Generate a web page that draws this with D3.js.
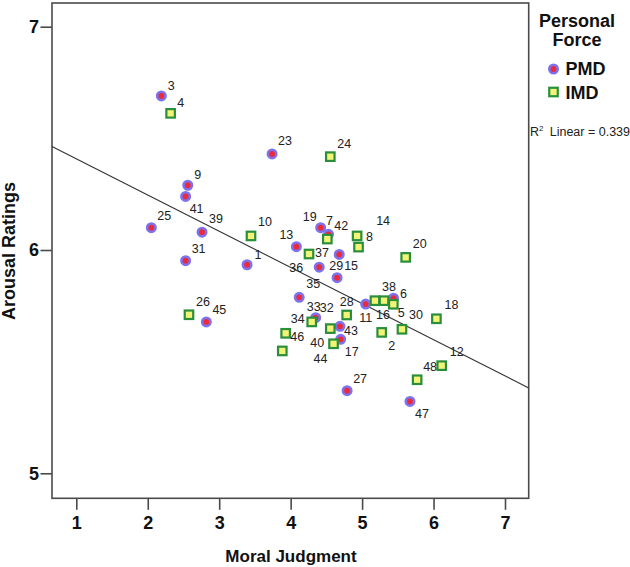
<!DOCTYPE html>
<html>
<head>
<meta charset="utf-8">
<script src="https://cdn.jsdelivr.net/npm/d3@7"></script>
<style>
  html, body { margin: 0; padding: 0; background: #fff; }
  svg { display: block; }
  text { font-family: Arial, "Liberation Sans", sans-serif; }
</style>
</head>
<body>
<div id="chart"></div>
<script>
// ---------------- DATA ----------------
const xTicks = [1, 2, 3, 4, 5, 6, 7];
const yTicks = [5, 6, 7];

// PMD (personal moral dilemmas) - circles
const pmdIds = [3, 23, 9, 41, 25, 39, 19, 7, 13, 29, 31, 1, 36, 15, 35, 45, 33, 43, 17, 11, 6, 27, 47];
const pmdX   = [2.19, 3.74, 2.56, 2.53, 2.05, 2.76, 4.42, 4.53, 4.08, 4.68, 2.53, 3.39, 4.40, 4.65, 4.12, 2.82, 4.35, 4.69, 4.70, 5.05, 5.44, 4.79, 5.67];
const pmdY   = [6.69, 6.43, 6.29, 6.24, 6.10, 6.08, 6.10, 6.07, 6.015, 5.98, 5.952, 5.934, 5.923, 5.876, 5.788, 5.678, 5.697, 5.658, 5.600, 5.758, 5.784, 5.370, 5.322];

// IMD (impersonal moral dilemmas) - squares
const imdIds = [4, 24, 10, 42, 14, 8, 37, 20, 26, 34, 46, 32, 28, 40, 44, 16, 38, 5, 30, 2, 18, 48, 12];
const imdX   = [2.32, 4.555, 3.445, 4.513, 4.93, 4.95, 4.257, 5.61, 2.577, 3.93, 3.883, 4.295, 4.784, 4.555, 4.60, 5.18, 5.307, 5.437, 5.558, 5.274, 6.04, 5.77, 6.114];
const imdY   = [6.612, 6.418, 6.063, 6.049, 6.063, 6.013, 5.982, 5.967, 5.710, 5.627, 5.548, 5.678, 5.709, 5.648, 5.580, 5.773, 5.773, 5.757, 5.645, 5.631, 5.692, 5.419, 5.482];

// Linear fit (total)
const fitIntercept = 6.570;
const fitSlope = -0.162;
const r2Text = "0.339";

const legendTitle = ["Personal", "Force"];
const legendLabels = ["PMD", "IMD"];
const xTitle = "Moral Judgment";
const yTitle = "Arousal Ratings";

// ---------------- LAYOUT ----------------
// label centre offsets (px) relative to each marker
const labelOffsets = {
  3:[10,-10], 4:[10,-10], 23:[13,-13], 24:[14,-13], 9:[10,-10], 41:[11,13],
  25:[13,-12], 39:[14,-13], 10:[14,-14], 31:[13,-12], 1:[11,-10], 26:[14,-13],
  45:[13,-12], 13:[-10,-12], 19:[-11,-11], 7:[1,-13], 42:[14,-13], 14:[26,-15],
  8:[11,-10], 37:[13,-1], 29:[-3,12], 15:[14,-12], 36:[-23,1], 35:[14,-13],
  20:[14,-13], 33:[-2,-11], 32:[15,-14], 28:[0,-13], 11:[0,14], 34:[12,-14],
  46:[15,-14], 43:[11,5], 40:[-13,14], 17:[11,13], 44:[-13,15], 38:[5,-14],
  16:[8,14], 6:[10,-4], 5:[8,9], 30:[14,-14], 18:[15,-14], 2:[10,14],
  48:[13,-13], 12:[15,-14], 27:[13,-12], 47:[12,13]
};

const W = 630, H = 567;
const frame = { left: 52, right: 528.7, top: 3, bottom: 498.3 };

const svg = d3.select("#chart").append("svg")
  .attr("width", W).attr("height", H);

const x = d3.scaleLinear().domain([1, 7]).range([76.3, 505]);
const y = d3.scaleLinear().domain([5, 7]).range([473.3, 26.7]);

// frame
svg.append("rect")
  .attr("x", frame.left).attr("y", frame.top)
  .attr("width", frame.right - frame.left).attr("height", frame.bottom - frame.top)
  .attr("fill", "none").attr("stroke", "#4a4a4a").attr("stroke-width", 1.6);

// x axis
const xAxis = svg.append("g")
  .attr("transform", `translate(0,${frame.bottom})`)
  .call(d3.axisBottom(x).tickValues(xTicks).tickSize(11.5).tickPadding(6).tickFormat(d3.format("d")));
xAxis.select(".domain").remove();
xAxis.selectAll(".tick line").attr("stroke", "#4a4a4a").attr("stroke-width", 1.6);
xAxis.selectAll(".tick text")
  .attr("font-size", 18).attr("font-weight", "bold").attr("fill", "#111")
  .attr("font-family", "Arial, 'Liberation Sans', sans-serif");

// y axis
const yAxis = svg.append("g")
  .attr("transform", `translate(${frame.left},0)`)
  .call(d3.axisLeft(y).tickValues(yTicks).tickSize(11.5).tickPadding(1.5).tickFormat(d3.format("d")));
yAxis.select(".domain").remove();
yAxis.selectAll(".tick line").attr("stroke", "#4a4a4a").attr("stroke-width", 1.6);
yAxis.selectAll(".tick text")
  .attr("font-size", 18).attr("font-weight", "bold").attr("fill", "#111")
  .attr("font-family", "Arial, 'Liberation Sans', sans-serif");

// axis titles
svg.append("text")
  .attr("x", 291).attr("y", 562)
  .attr("text-anchor", "middle")
  .attr("font-size", 17).attr("font-weight", "bold").attr("fill", "#111")
  .text(xTitle);

svg.append("text")
  .attr("transform", "translate(15,251) rotate(-90)")
  .attr("text-anchor", "middle")
  .attr("font-size", 18).attr("font-weight", "bold").attr("fill", "#111")
  .text(yTitle);

// regression line
const x0 = x.invert(frame.left), x1 = x.invert(frame.right);
svg.append("line")
  .attr("x1", x(x0)).attr("y1", y(fitIntercept + fitSlope * x0))
  .attr("x2", x(x1)).attr("y2", y(fitIntercept + fitSlope * x1))
  .attr("stroke", "#333").attr("stroke-width", 1.1);

// data
const pmd = pmdIds.map((id, i) => ({ id, x: pmdX[i], y: pmdY[i] }));
const imd = imdIds.map((id, i) => ({ id, x: imdX[i], y: imdY[i] }));

const circleFill = "#ec2a3a", circleStroke = "#7d72ee";
const sqFill = "#f3f377", sqStroke = "#2a8f3a";
const sq = 8.5;

const gPts = svg.append("g");
gPts.selectAll("circle.pmd").data(pmd).join("circle")
  .attr("class", "pmd")
  .attr("cx", d => x(d.x)).attr("cy", d => y(d.y))
  .attr("r", 4.2)
  .attr("fill", circleFill).attr("stroke", circleStroke).attr("stroke-width", 2.6);

gPts.selectAll("rect.imd").data(imd).join("rect")
  .attr("class", "imd")
  .attr("x", d => x(d.x) - sq / 2).attr("y", d => y(d.y) - sq / 2)
  .attr("width", sq).attr("height", sq)
  .attr("fill", sqFill).attr("stroke", sqStroke).attr("stroke-width", 2.2);

// point labels
const allPts = pmd.concat(imd);
svg.append("g").selectAll("text").data(allPts).join("text")
  .attr("x", d => x(d.x) + (labelOffsets[d.id] || [13, -13])[0])
  .attr("y", d => y(d.y) + (labelOffsets[d.id] || [13, -13])[1])
  .attr("text-anchor", "middle")
  .attr("dominant-baseline", "central")
  .attr("font-size", 12.5).attr("fill", "#222")
  .text(d => d.id);

// legend
svg.append("text").attr("x", 577).attr("y", 27).attr("text-anchor", "middle")
  .attr("font-size", 18).attr("font-weight", "bold").attr("fill", "#111").text(legendTitle[0]);
svg.append("text").attr("x", 577).attr("y", 45.5).attr("text-anchor", "middle")
  .attr("font-size", 18).attr("font-weight", "bold").attr("fill", "#111").text(legendTitle[1]);

svg.append("circle").attr("cx", 553.5).attr("cy", 69).attr("r", 4.2)
  .attr("fill", circleFill).attr("stroke", circleStroke).attr("stroke-width", 2.6);
svg.append("text").attr("x", 565.5).attr("y", 69).attr("dominant-baseline", "central")
  .attr("font-size", 18).attr("font-weight", "bold").attr("fill", "#111").text(legendLabels[0]);

svg.append("rect").attr("x", 553.5 - sq / 2).attr("y", 92 - sq / 2).attr("width", sq).attr("height", sq)
  .attr("fill", sqFill).attr("stroke", sqStroke).attr("stroke-width", 2.2);
svg.append("text").attr("x", 565.5).attr("y", 92.5).attr("dominant-baseline", "central")
  .attr("font-size", 18).attr("font-weight", "bold").attr("fill", "#111").text(legendLabels[1]);

// R² annotation
const r2 = svg.append("text").attr("x", 530).attr("y", 135.5)
  .attr("font-size", 12.5).attr("fill", "#222");
r2.append("tspan").text("R");
r2.append("tspan").attr("font-size", 8).attr("dy", -4.5).text("2");
r2.append("tspan").attr("dy", 4.5).text("\u2002Linear = " + r2Text);
</script>
</body>
</html>
